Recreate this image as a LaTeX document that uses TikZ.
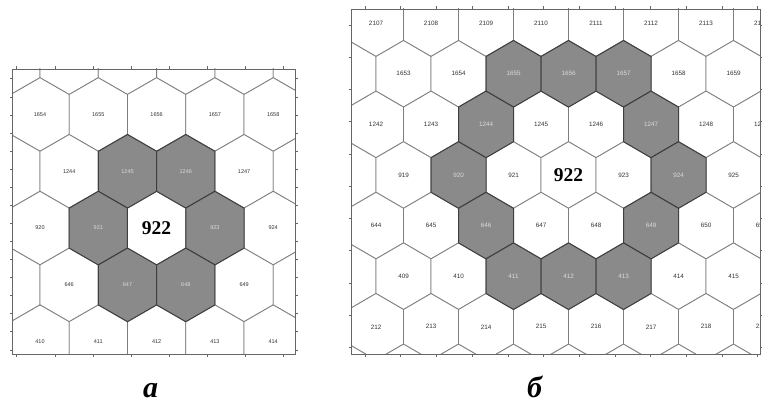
\documentclass[tikz,border=0pt]{standalone}
\usepackage{fontspec}
\setmainfont{Liberation Serif}
\newfontfamily\cellfont{Liberation Sans}
\definecolor{cellline}{HTML}{7E7E7E}
\definecolor{grayfill}{HTML}{8A8A8A}
\definecolor{grayline}{HTML}{3E3E3E}
\definecolor{frameline}{HTML}{666666}
\definecolor{labtxt}{HTML}{333333}
\definecolor{labgray}{HTML}{DADADA}
% hexagon paths: centre (x,y)
\newcommand{\hexA}[2]{({#1-29.15},{#2-20}) -- ({#1},{#2-36.8}) -- ({#1+29.15},{#2-20}) -- ({#1+29.15},{#2+20}) -- ({#1},{#2+36.8}) -- ({#1-29.15},{#2+20}) -- cycle}
\newcommand{\hexB}[2]{({#1-27.5},{#2-17.3}) -- ({#1},{#2-33.3}) -- ({#1+27.5},{#2-17.3}) -- ({#1+27.5},{#2+17.3}) -- ({#1},{#2+33.3}) -- ({#1-27.5},{#2+17.3}) -- cycle}
\begin{document}
\begin{tikzpicture}[x=1pt,y=-1pt,
  whitecell/.style={draw=cellline,line width=0.8pt,fill=white,line join=miter},
  graycell/.style={draw=grayline,line width=1pt,fill=grayfill,line join=miter},
  frame/.style={draw=frameline,line width=0.8pt},
  tick/.style={draw=frameline,line width=0.6pt},
  laba/.style={inner sep=0pt,text=labtxt,font=\cellfont\fontsize{5.5}{6}\selectfont},
  glaba/.style={laba,text=labgray},
  labb/.style={inner sep=0pt,text=labtxt,font=\cellfont\fontsize{6.3}{7}\selectfont},
  glabb/.style={labb,text=labgray},
  bignum/.style={inner sep=0pt,text=black,font=\bfseries\fontsize{19.5}{20}\selectfont},
  panel/.style={inner sep=0pt,anchor=base,text=black,font=\bfseries\itshape\fontsize{30}{32}\selectfont}]
\useasboundingbox[fill=white] (0,0) rectangle (762,403);

% ---------------- panel a ----------------
\begin{scope}
\clip (12.7,69) rectangle (295,354.3);
\foreach \j in {-1,...,5}{
  \foreach \i in {-1,...,6}{
    \pgfmathsetmacro\cx{40+58.3*\i-29.15*mod(\j+2,2)}
    \pgfmathsetmacro\cy{114.5+56.8*\j}
    \draw[whitecell] \hexA{\cx}{\cy};
  }}
\foreach \x/\y in {127.5/171.3,185.8/171.3,98.3/228.1,214.9/228.1,127.5/284.9,185.8/284.9}
  \draw[graycell] \hexA{\x}{\y};
\end{scope}
\draw[frame] (12.7,69) rectangle (295,354.3);
\foreach \k in {0,...,7}{
  \draw[tick] ({16.7+38.15*\k},69) -- ++(0,-2.5);
  \draw[tick] ({16.7+38.15*\k},354.3) -- ++(0,2.5);}
\foreach \k in {0,...,15}{
  \draw[tick] (12.7,{78.8+18.07*\k}) -- ++(-2.5,0);
  \draw[tick] (295,{78.8+18.07*\k}) -- ++(2.5,0);}

\foreach \t/\x/\y in {1654/40/114.5,1655/98.3/114.5,1656/156.6/114.5,1657/214.9/114.5,1658/273.2/114.5,
  1244/69.2/171.3,1247/244.1/171.3,
  920/40/228.1,924/273.2/228.1,
  646/69.2/284.9,649/244.1/284.9,
  410/40/341.7,411/98.3/341.7,412/156.6/341.7,413/214.9/341.7,414/273.2/341.7}
  \node[laba] (a\t) at (\x,\y) {\t};
\foreach \t/\x/\y in {1245/127.5/171.3,1246/185.8/171.3,921/98.3/228.1,923/214.9/228.1,647/127.5/284.9,648/185.8/284.9}
  \node[glaba] (a\t) at (\x,\y) {\t};
\node[bignum] (a922) at (156.6,228.1) {922};
\node[panel] (pa) at (150.5,397) {а};

% ---------------- panel b ----------------
\begin{scope}
\clip (351,9) rectangle (760.5,354.3);
\foreach \j in {-1,...,7}{
  \foreach \i in {-1,...,8}{
    \pgfmathsetmacro\cx{376+55*\i+27.5*mod(\j+2,2)}
    \pgfmathsetmacro\cy{23.2+50.6*\j}
    \draw[whitecell] \hexB{\cx}{\cy};
  }}
\foreach \x/\y in {513.5/73.8,568.5/73.8,623.5/73.8,486/124.4,651/124.4,458.5/175,678.5/175,486/225.6,651/225.6,513.5/276.2,568.5/276.2,623.5/276.2}
  \draw[graycell] \hexB{\x}{\y};
\foreach \t/\x/\y in {2107/376/23.2,2108/431/23.2,2109/486/23.2,2110/541/23.2,2111/596/23.2,2112/651/23.2,2113/706/23.2,2114/761/23.2,
  1653/403.5/73.8,1654/458.5/73.8,1658/678.5/73.8,1659/733.5/73.8,
  1242/376/124.4,1243/431/124.4,1245/541/124.4,1246/596/124.4,1248/706/124.4,1249/761/124.4,
  919/403.5/175,921/513.5/175,923/623.5/175,925/733.5/175,
  644/376/225.6,645/431/225.6,647/541/225.6,648/596/225.6,650/706/225.6,651/761/225.6,
  409/403.5/276.2,410/458.5/276.2,414/678.5/276.2,415/733.5/276.2,
  212/376/326.8,213/431/326.8,214/486/326.8,215/541/326.8,216/596/326.8,217/651/326.8,218/706/326.8,219/761/326.8}
  \node[labb] (b\t) at (\x,\y) {\t};
\foreach \t/\x/\y in {1655/513.5/73.8,1656/568.5/73.8,1657/623.5/73.8,1244/486/124.4,1247/651/124.4,
  920/458.5/175,924/678.5/175,646/486/225.6,649/651/225.6,411/513.5/276.2,412/568.5/276.2,413/623.5/276.2}
  \node[glabb] (b\t) at (\x,\y) {\t};
\end{scope}
\draw[frame] (351,9) rectangle (760.5,354.3);
\foreach \k in {0,...,11}{
  \draw[tick] ({365+35.7*\k},9) -- ++(0,-2.5);
  \draw[tick] ({365+35.7*\k},354.3) -- ++(0,2.5);}
\foreach \k in {0,...,10}{
  \draw[tick] (351,{25+32.23*\k}) -- ++(-2.5,0);
  \draw[tick] (760.5,{25+32.23*\k}) -- ++(2.5,0);}
\node[bignum] (b922) at (568.5,175) {922};
\node[panel] (pb) at (534.5,397) {б};
\end{tikzpicture}
\end{document}
